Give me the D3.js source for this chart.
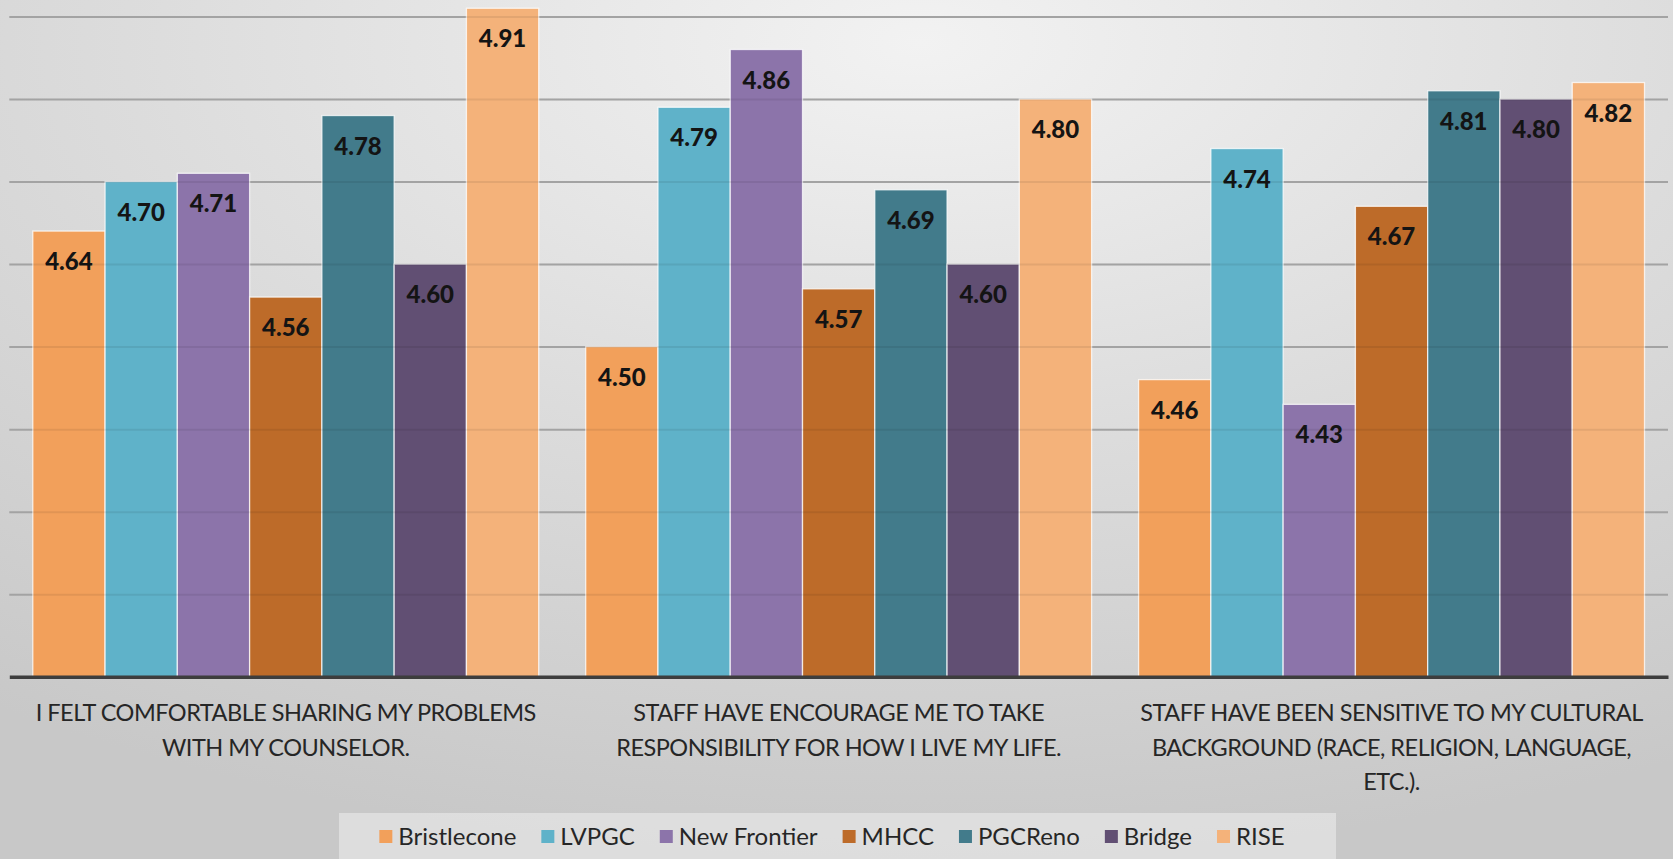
<!DOCTYPE html>
<html>
<head>
<meta charset="utf-8">
<script src="https://cdn.jsdelivr.net/npm/d3@7"></script>
<style>
  html, body { margin: 0; padding: 0; overflow: hidden; }
  svg { display: block; }
</style>
</head>
<body>
<svg id="chart" width="1673" height="859"></svg>
<script>
// Survey statements (category labels, pre-wrapped into lines)
const categories = [
  "I FELT COMFORTABLE SHARING MY PROBLEMS WITH MY COUNSELOR.",
  "STAFF HAVE ENCOURAGE ME TO TAKE RESPONSIBILITY FOR HOW I LIVE MY LIFE.",
  "STAFF HAVE BEEN SENSITIVE TO MY CULTURAL BACKGROUND (RACE, RELIGION, LANGUAGE, ETC.)."
];
const categoryLines = [
  ["I FELT COMFORTABLE SHARING MY PROBLEMS", "WITH MY COUNSELOR."],
  ["STAFF HAVE ENCOURAGE ME TO TAKE", "RESPONSIBILITY FOR HOW I LIVE MY LIFE."],
  ["STAFF HAVE BEEN SENSITIVE TO MY CULTURAL", "BACKGROUND (RACE, RELIGION, LANGUAGE,", "ETC.)."]
];

// Programs
const series = ["Bristlecone", "LVPGC", "New Frontier", "MHCC", "PGCReno", "Bridge", "RISE"];
const seriesColors = ["#f2a05b", "#5fb2c9", "#8c74aa", "#bd6b29", "#427b8b", "#614f73", "#f4b27a"];

// Mean scores per program, one value per statement
const bristlecone = [4.64, 4.50, 4.46];
const lvpgc       = [4.70, 4.79, 4.74];
const newFrontier = [4.71, 4.86, 4.43];
const mhcc        = [4.56, 4.57, 4.67];
const pgcReno     = [4.78, 4.69, 4.81];
const bridge      = [4.60, 4.60, 4.80];
const rise        = [4.91, 4.80, 4.82];
const seriesValues = [bristlecone, lvpgc, newFrontier, mhcc, pgcReno, bridge, rise];

// Value axis
const yMin = 4.1, yMax = 4.9;
const gridTicks = [4.2, 4.3, 4.4, 4.5, 4.6, 4.7, 4.8, 4.9];

const W = 1673, H = 859;
const svg = d3.select("#chart");

// Background: soft radial grey
const defs = svg.append("defs");
const bg = defs.append("radialGradient").attr("id", "bg")
  .attr("cx", "0.55").attr("cy", "0.05").attr("r", "0.95");
bg.append("stop").attr("offset", "0").attr("stop-color", "#f2f2f2");
bg.append("stop").attr("offset", "0.5").attr("stop-color", "#dcdcdc");
bg.append("stop").attr("offset", "1").attr("stop-color", "#c8c8c8");
svg.append("rect").attr("width", W).attr("height", H).attr("fill", "url(#bg)");

const plot = { left: 9.3, right: 1668, top: 16.5, bottom: 676.7 };

const y = d3.scaleLinear().domain([yMin, yMax]).range([plot.bottom, plot.top]);
const x0 = d3.scaleBand().domain(d3.range(categories.length)).range([plot.left, plot.right]);
const gap = x0.bandwidth() * 0.085 / 2;
const x1 = d3.scaleBand().domain(d3.range(series.length)).range([gap, x0.bandwidth() - gap]);
const color = d3.scaleOrdinal().domain(d3.range(series.length)).range(seriesColors);

// Horizontal gridlines
const gridAxis = d3.axisLeft(y).tickValues(gridTicks).tickSize(-(plot.right - plot.left)).tickFormat("");
const grid = svg.append("g").attr("transform", `translate(${plot.left},0)`).call(gridAxis);
grid.select(".domain").remove();
grid.selectAll(".tick line").attr("stroke", "#b0b0b0").attr("stroke-width", 2);

// Bars
const groups = svg.append("g").selectAll("g")
  .data(categories.map((c, ci) => ({ ci, values: seriesValues.map((s, si) => ({ si, v: s[ci] })) })))
  .join("g")
  .attr("transform", d => `translate(${x0(d.ci)},0)`);

groups.selectAll("rect")
  .data(d => d.values)
  .join("rect")
  .attr("x", d => x1(d.si))
  .attr("y", d => y(d.v))
  .attr("width", x1.bandwidth())
  .attr("height", d => y(yMin) - y(d.v))
  .attr("fill", d => color(d.si))
  .attr("stroke", "rgba(255,255,255,0.75)")
  .attr("stroke-width", 1.3);

// Faint gridline trace across the bars
const gridOver = d3.axisLeft(y).tickValues(gridTicks).tickSize(-(plot.right - plot.left)).tickFormat("");
const go = svg.append("g").attr("transform", `translate(${plot.left},0)`).call(gridOver);
go.select(".domain").remove();
go.selectAll(".tick line").attr("stroke", "rgba(0,0,0,0.07)").attr("stroke-width", 2);

// Value labels inside the top of each bar
groups.selectAll("text.val")
  .data(d => d.values)
  .join("text")
  .attr("class", "val")
  .attr("x", d => x1(d.si) + x1.bandwidth() / 2)
  .attr("y", d => y(d.v) + 39)
  .attr("text-anchor", "middle")
  .attr("font-family", "Lato, 'Open Sans', sans-serif")
  .attr("font-weight", 900)
  .attr("font-size", 24)
  .attr("fill", "#141414")
  .text(d => d.v.toFixed(2));

// Category axis line
const xAxis = d3.axisBottom(x0).tickSize(0).tickFormat("");
const xa = svg.append("g").attr("transform", `translate(0,${plot.bottom})`).call(xAxis);
xa.select(".domain").attr("stroke", "#3d3d3d").attr("stroke-width", 3.5);

// Category labels
const catLabels = svg.append("g").selectAll("text")
  .data(categoryLines)
  .join("text")
  .attr("text-anchor", "middle")
  .attr("font-family", "Lato, 'Open Sans', sans-serif")
  .attr("font-size", 23.5)
  .attr("letter-spacing", -0.5)
  .attr("fill", "#262626");
catLabels.each(function (lines, i) {
  d3.select(this).selectAll("tspan")
    .data(lines)
    .join("tspan")
    .attr("x", x0(i) + x0.bandwidth() / 2)
    .attr("y", (d, k) => 721 + k * 34.6)
    .text(d => d);
});

// Legend
const legend = svg.append("g");
const legendBox = legend.append("rect")
  .attr("y", 813).attr("height", 60)
  .attr("fill", "#e4e4e4").attr("fill-opacity", 0.75);
const items = legend.selectAll("g.item").data(series).join("g").attr("class", "item");
items.append("rect")
  .attr("width", 13).attr("height", 13)
  .attr("y", 830)
  .attr("fill", (d, i) => color(i));
items.append("text")
  .attr("x", 19).attr("y", 845)
  .attr("font-family", "Lato, 'Open Sans', sans-serif")
  .attr("font-size", 24)
  .attr("fill", "#262626")
  .text(d => d);
let cursor = 0;
const offsets = [];
items.each(function () {
  offsets.push(cursor);
  const w = d3.select(this).select("text").node().getComputedTextLength();
  cursor += 19 + w + 25;
});
const totalW = cursor - 25;
const legendCx = 832;
const lx = legendCx - totalW / 2;
items.attr("transform", (d, i) => `translate(${lx + offsets[i]},0)`);
legendBox.attr("x", 339).attr("width", 997);
</script>
</body>
</html>
